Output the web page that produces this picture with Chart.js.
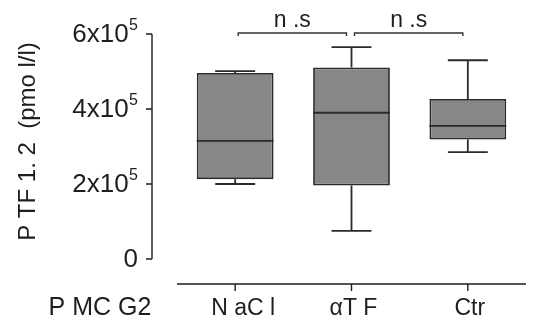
<!DOCTYPE html>
<html>
<head>
<meta charset="utf-8">
<script src="https://cdn.jsdelivr.net/npm/chart.js@4"></script>
<style>
  html, body { margin: 0; padding: 0; background: #fff; }
  canvas { display: block; }
</style>
</head>
<body>
<canvas id="boxChart" width="547" height="328"></canvas>
<script>
// box plot values
const categories = ['N aC l', 'αT F', 'Ctr'];
const minVals = [200000, 75000, 285000];
const q1Vals = [213000, 196000, 319000];
const medianVals = [315000, 390000, 355000];
const q3Vals = [496000, 511000, 427000];
const maxVals = [501000, 565000, 530000];

const yTicks = [0, 200000, 400000, 600000];
const yTickLabels = ['0', '2x10', '4x10', '6x10'];
const yTickExp = ['', '5', '5', '5'];
const yTitle = 'P TF 1. 2  (pmo l/l)';
const groupLabel = 'P MC G2';

const sigPairs = [[0, 1], [1, 2]];
const sigLabels = ['n .s', 'n .s'];

const ink = '#1e1e1e';
const font = '"Liberation Sans", Arial, sans-serif';

const boxExtras = {
    id: 'boxExtras',
    afterDatasetsDraw(chart) {
        const ctx = chart.ctx;
        const y = chart.scales.y;
        const meta = chart.getDatasetMeta(0);
        ctx.save();
        ctx.strokeStyle = '#2b2b2b';
        ctx.lineWidth = 1.8;
        categories.forEach((c, i) => {
            const bar = meta.data[i];
            const cx = bar.x;
            const half = bar.width / 2;
            const cap = bar.width * 0.26;
            ctx.beginPath();
            // upper whisker
            ctx.moveTo(cx, y.getPixelForValue(q3Vals[i]));
            ctx.lineTo(cx, y.getPixelForValue(maxVals[i]));
            ctx.moveTo(cx - cap, y.getPixelForValue(maxVals[i]));
            ctx.lineTo(cx + cap, y.getPixelForValue(maxVals[i]));
            // lower whisker
            ctx.moveTo(cx, y.getPixelForValue(q1Vals[i]));
            ctx.lineTo(cx, y.getPixelForValue(minVals[i]));
            ctx.moveTo(cx - cap, y.getPixelForValue(minVals[i]));
            ctx.lineTo(cx + cap, y.getPixelForValue(minVals[i]));
            // median
            ctx.moveTo(cx - half, y.getPixelForValue(medianVals[i]));
            ctx.lineTo(cx + half, y.getPixelForValue(medianVals[i]));
            ctx.stroke();
        });
        ctx.restore();
    },
    afterDraw(chart) {
        const ctx = chart.ctx;
        const x = chart.scales.x, y = chart.scales.y;
        const area = chart.chartArea;
        const yAxisX = area.left - 25;
        const xAxisY = area.bottom + 25;
        ctx.save();
        ctx.strokeStyle = ink;
        ctx.fillStyle = ink;
        ctx.lineWidth = 1.4;

        // y axis line and ticks
        ctx.beginPath();
        ctx.moveTo(yAxisX, y.getPixelForValue(yTicks[yTicks.length - 1]));
        ctx.lineTo(yAxisX, y.getPixelForValue(yTicks[0]));
        yTicks.forEach(v => {
            const py = y.getPixelForValue(v);
            ctx.moveTo(yAxisX - 6, py);
            ctx.lineTo(yAxisX, py);
        });
        // x axis line and ticks
        ctx.moveTo(area.left, xAxisY);
        ctx.lineTo(area.right, xAxisY);
        categories.forEach((c, i) => {
            const px = x.getPixelForValue(i);
            ctx.moveTo(px, xAxisY);
            ctx.lineTo(px, xAxisY + 7);
        });
        ctx.stroke();

        // y tick labels with exponent
        const labelRight = yAxisX - 14;
        yTicks.forEach((v, i) => {
            const py = y.getPixelForValue(v);
            ctx.textBaseline = 'alphabetic';
            ctx.font = '16px ' + font;
            const expW = yTickExp[i] ? ctx.measureText(yTickExp[i]).width + 0.5 : 0;
            if (yTickExp[i]) {
                ctx.textAlign = 'right';
                ctx.fillText(yTickExp[i], labelRight, py - 4);
            }
            ctx.font = '26px ' + font;
            ctx.textAlign = 'right';
            ctx.fillText(yTickLabels[i], labelRight - expW, py + 8);
        });

        // category labels
        ctx.font = '23px ' + font;
        ctx.textAlign = 'center';
        ctx.textBaseline = 'alphabetic';
        categories.forEach((c, i) => {
            ctx.fillText(c, x.getPixelForValue(i) + (i === 0 ? 8 : 2), xAxisY + 31);
        });
        ctx.font = '25px ' + font;
        ctx.fillText(groupLabel, 100, xAxisY + 31);

        // y title
        ctx.save();
        ctx.translate(28, (area.top + area.bottom) / 2 - 5);
        ctx.rotate(-Math.PI / 2);
        ctx.font = '24px ' + font;
        ctx.textAlign = 'center';
        ctx.textBaseline = 'middle';
        ctx.fillText(yTitle, 0, 0);
        ctx.restore();

        // significance brackets
        const by = area.top - 1;
        ctx.lineWidth = 1.4;
        ctx.strokeStyle = '#333';
        ctx.font = '23px ' + font;
        ctx.textAlign = 'center';
        sigPairs.forEach((p, k) => {
            const x1 = x.getPixelForValue(p[0]) + 3;
            const x2 = x.getPixelForValue(p[1]) - 5;
            ctx.beginPath();
            ctx.moveTo(x1, by + 3);
            ctx.lineTo(x1, by);
            ctx.lineTo(x2, by);
            ctx.lineTo(x2, by + 3);
            ctx.stroke();
            ctx.fillText(sigLabels[k], (x1 + x2) / 2, by - 6);
        });
        ctx.restore();
    }
};

new Chart(document.getElementById('boxChart').getContext('2d'), {
    type: 'bar',
    data: {
        labels: categories,
        datasets: [{
            data: categories.map((c, i) => [q1Vals[i], q3Vals[i]]),
            backgroundColor: '#878787',
            borderColor: '#2b2b2b',
            borderWidth: 1.8,
            borderSkipped: false,
            barPercentage: 0.66,
            categoryPercentage: 1
        }]
    },
    options: {
        responsive: false,
        devicePixelRatio: 1,
        animation: false,
        layout: { padding: { left: 177, right: 21, top: 34, bottom: 69 } },
        plugins: { legend: { display: false }, tooltip: { enabled: false } },
        scales: {
            x: { display: false, offset: true },
            y: { display: false, min: 0, max: 600000 }
        }
    },
    plugins: [boxExtras]
});
</script>
</body>
</html>
